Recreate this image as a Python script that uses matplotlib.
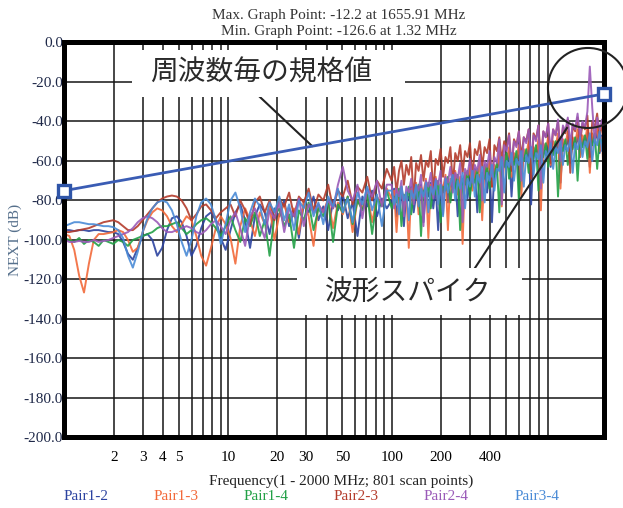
import numpy as np
import matplotlib
matplotlib.use('Agg')
import matplotlib.pyplot as plt
from matplotlib.patches import Rectangle, Ellipse
from matplotlib.ticker import FixedLocator, FixedFormatter, NullFormatter

# log sweep: coarser below 100 MHz, finer above
freq = np.concatenate([np.geomspace(1, 100, 67, endpoint=False),
                       np.geomspace(100, 2000, 88)])

pair12 = [-95, -95, -95.5, -95, -95, -95.5, -95, -95, -95.5, -96,
          -96, -97, -101, -107, -110, -104, -98, -97, -100, -108,
          -104, -95, -89, -88, -91, -98, -108, -103, -94, -88,
          -86, -90, -99, -105, -95, -86, -82, -90, -104, -88,
          -82, -86, -97, -84, -88, -80, -93, -85, -99, -82,
          -86, -78, -90, -83, -95, -80, -85, -77, -89, -81,
          -98, -78, -83, -75, -88, -79, -84,
          -80, -74, -88, -77, -75, -93, -76, -80, -73, -86, -77,
          -79, -72, -91, -75, -78, -71, -84, -73, -95, -72, -76,
          -69, -81, -71, -74, -68, -88, -70, -72, -66, -79, -68,
          -71, -64, -86, -67, -69, -62, -76, -65, -91, -64, -67,
          -57, -70, -60, -63, -55, -78, -58, -61, -54, -67, -57,
          -60, -53, -82, -55, -58, -51, -66, -54, -57, -50, -63,
          -53, -56, -49, -71, -51, -54, -48, -61, -50, -53, -47,
          -58, -49, -52, -46, -63, -48, -51, -45, -56, -47, -50]
pair13 = [-97, -98, -105, -118, -126.6, -112, -100, -97, -97, -96.5,
          -96, -95, -96, -100, -106, -104, -96, -90, -86, -84,
          -85, -88, -93, -96, -92, -88, -90, -98, -108, -113,
          -104, -94, -88, -92, -99, -112, -93, -84, -90, -98,
          -86, -92, -83, -100, -87, -82, -91, -84, -97, -80,
          -88, -103, -82, -86, -79, -94, -81, -87, -78, -96,
          -80, -84, -76, -91, -78, -82, -74,
          -79, -75, -96, -77, -73, -84, -76, -104, -74, -78, -71,
          -87, -73, -76, -69, -99, -72, -75, -68, -82, -71, -74,
          -67, -95, -69, -72, -65, -77, -68, -102, -66, -70, -63,
          -75, -65, -68, -61, -90, -63, -66, -60, -73, -62, -65,
          -55, -83, -57, -60, -53, -68, -56, -59, -52, -78, -54,
          -57, -50, -64, -53, -56, -49, -85, -51, -54, -48, -62,
          -50, -53, -46, -74, -49, -52, -45, -60, -48, -51, -44,
          -58, -47, -50, -43, -66, -46, -49, -42, -55, -48, -80]
pair14 = [-99, -100, -101, -99, -102, -100, -101, -103, -100, -101,
          -102, -100, -101, -103, -100, -99, -98, -97, -96, -94,
          -93, -93, -92, -91, -94, -97, -95, -92, -90, -89,
          -91, -94, -98, -93, -88, -95, -101, -89, -93, -86,
          -98, -90, -108, -88, -84, -93, -87, -104, -85, -90,
          -81, -95, -84, -88, -80, -101, -82, -86, -78, -92,
          -80, -85, -77, -97, -79, -83, -75,
          -84, -78, -81, -74, -93, -77, -80, -73, -87, -76, -79,
          -72, -98, -75, -78, -71, -84, -74, -77, -70, -91, -73,
          -75, -68, -81, -71, -74, -67, -95, -69, -72, -65, -78,
          -68, -71, -64, -86, -66, -69, -62, -74, -65, -68, -61,
          -86, -60, -63, -56, -69, -59, -62, -55, -80, -57, -60,
          -54, -66, -56, -59, -52, -75, -55, -58, -51, -63, -54,
          -57, -50, -78, -52, -55, -49, -62, -51, -54, -48, -70,
          -50, -53, -47, -59, -49, -52, -46, -64, -48, -51, -50]
pair23 = [-96, -96, -95.5, -95, -94.5, -94, -93, -92, -91, -90.5,
          -90, -91, -93, -95, -95, -93, -90, -87, -84, -81,
          -79, -78, -77.5, -78, -80, -84, -90, -87, -83, -82,
          -85, -89, -86, -84, -82, -88, -80, -85, -92, -81,
          -78, -86, -80, -90, -79, -83, -76, -88, -78, -81,
          -74, -85, -77, -80, -72, -84, -75, -78, -70, -82,
          -73, -76, -68, -80, -70, -74, -64,
          -70, -63, -76, -65, -60, -72, -62, -67, -58, -80, -61,
          -65, -57, -70, -60, -63, -55, -76, -59, -62, -54, -68,
          -58, -61, -53, -72, -56, -60, -52, -66, -55, -58, -51,
          -68, -54, -57, -50, -63, -53, -56, -49, -73, -52, -55,
          -48, -60, -50, -53, -46, -65, -49, -52, -45, -58, -48,
          -50, -44, -69, -46, -49, -42, -58, -45, -48, -41, -61,
          -44, -47, -40, -55, -43, -46, -39, -66, -42, -45, -38,
          -51, -41, -44, -37, -58, -40, -43, -36, -49, -41, -42]
pair24 = [-100, -101, -101, -100.5, -101, -101, -100, -101, -100.5, -100,
          -99, -98, -97, -96, -94, -91, -89, -88, -89, -91,
          -94, -96, -96, -95, -94, -93, -94, -96, -97, -95,
          -92, -90, -93, -97, -90, -86, -94, -103, -88, -84,
          -92, -99, -85, -89, -81, -96, -84, -88, -79, -93,
          -82, -86, -82, -86, -80, -84, -72, -63, -75, -80,
          -72, -89, -74, -78, -70, -83, -72,
          -72, -84, -74, -78, -70, -88, -73, -76, -69, -82, -72,
          -75, -67, -93, -70, -73, -66, -79, -69, -72, -65, -87,
          -68, -71, -63, -76, -66, -69, -61, -91, -64, -67, -59,
          -71, -62, -65, -57, -80, -60, -63, -55, -68, -58, -61,
          -49, -82, -52, -55, -47, -62, -50, -53, -45, -70, -48,
          -51, -44, -58, -47, -50, -42, -74, -45, -48, -41, -55,
          -44, -47, -39, -60, -42, -45, -38, -52, -41, -44, -36,
          -48, -40, -43, -35, -12.2, -33, -50, -38, -44, -39, -45]
pair34 = [-93, -92, -91, -91, -91.5, -92, -92, -92.5, -93, -93,
          -93.5, -95, -99, -108, -114, -106, -96, -89, -84, -81,
          -80, -81, -85, -92, -101, -108, -100, -88, -81, -79,
          -82, -90, -102, -92, -80, -76, -84, -96, -86, -79,
          -83, -92, -81, -86, -78, -90, -82, -95, -80, -84,
          -76, -88, -81, -92, -78, -83, -74, -86, -79, -91,
          -76, -82, -73, -85, -77, -93, -75,
          -75, -82, -77, -87, -73, -80, -76, -90, -75, -79, -72,
          -83, -74, -78, -71, -86, -73, -77, -70, -82, -72, -88,
          -69, -76, -71, -67, -80, -70, -74, -66, -84, -69, -73,
          -65, -78, -67, -71, -63, -81, -66, -70, -62, -75, -64,
          -65, -58, -76, -60, -63, -56, -70, -59, -62, -55, -73,
          -57, -61, -53, -67, -56, -59, -52, -71, -55, -58, -51,
          -64, -53, -56, -50, -62, -52, -55, -49, -66, -51, -54,
          -48, -58, -50, -53, -46, -60, -49, -52, -45, -55, -47]

# limit line (per-frequency spec)
limit_freq = [1, 2000]
limit_db = [-75, -26]

pair_names = ['Pair1-2', 'Pair1-3', 'Pair1-4', 'Pair2-3', 'Pair2-4', 'Pair3-4']
pair_data = [pair12, pair13, pair14, pair23, pair24, pair34]
pair_colors = ['#2c43a0', '#f2693a', '#22a046', '#b43c2c', '#9a5ab8', '#4a8bd6']

x_major = [2, 3, 4, 5, 10, 20, 30, 50, 100, 200, 400]
x_minor = [6, 7, 8, 9, 40, 60, 70, 80, 90, 300, 500, 600, 700, 800, 900]
y_ticks = list(range(-200, 1, 20))

serif = 'Liberation Serif'
jp = ['Noto Sans CJK JP', 'DejaVu Sans']

fig = plt.figure(figsize=(6.23, 5.08), dpi=100)
ax = fig.add_axes([0.1035, 0.1388, 0.8668, 0.7776])

for name, vals, col in zip(pair_names, pair_data, pair_colors):
    assert len(vals) == len(freq), name
    ax.plot(freq, vals, color=col, lw=1.4, alpha=0.9, zorder=2)

ax.plot(limit_freq, limit_db, color='#3a5cb4', lw=2.0, marker='s', ms=8,
        mfc='white', mec='#2f55a8', mew=2.4, zorder=4, clip_on=False)

ax.set_xscale('log')
ax.set_xlim(1, 2000)
ax.set_ylim(-200, 0)
ax.xaxis.set_major_locator(FixedLocator(x_major))
ax.xaxis.set_major_formatter(FixedFormatter([str(v) for v in x_major]))
ax.xaxis.set_minor_locator(FixedLocator(x_minor))
ax.xaxis.set_minor_formatter(NullFormatter())
ax.set_yticks(y_ticks)
ax.set_yticklabels([f'{v:.1f}' for v in y_ticks])
ax.set_axisbelow(True)
ax.grid(True, which='both', color='#151515', lw=1.1)
ax.tick_params(which='both', length=0)
ax.tick_params(axis='x', pad=10, labelsize=11)
ax.tick_params(axis='y', pad=1, labelsize=11, labelcolor='#1e2848')
for lab in ax.get_xticklabels() + ax.get_yticklabels():
    lab.set_family(serif)
for sp in ax.spines.values():
    sp.set_linewidth(3.6)
    sp.set_color('black')

# header / footer text
fig.text(0.544, 1 - 16 / 508, 'Max. Graph Point: -12.2 at 1655.91 MHz',
         ha='center', va='center', fontsize=11, family=serif, color='#333333')
fig.text(0.544, 1 - 32 / 508, 'Min. Graph Point: -126.6 at 1.32 MHz',
         ha='center', va='center', fontsize=11, family=serif, color='#333333')
fig.text(0.547, 1 - 481 / 508, 'Frequency(1 - 2000 MHz; 801 scan points)',
         ha='center', va='center', fontsize=11, family=serif, color='#222222')
fig.text(15 / 623, 1 - 240 / 508, 'NEXT (dB)', rotation=90, ha='center',
         va='center', fontsize=11, family=serif, color='#56708c')
leg_x = [86, 176, 266, 356, 446, 537]
for lx, name, col in zip(leg_x, pair_names, pair_colors):
    fig.text(lx / 623, 1 - 497 / 508, name, ha='center', va='center',
             fontsize=11, family=serif, color=col)

# callouts
ax.add_patch(Rectangle((0.125, 0.862), 0.506, 0.119, transform=ax.transAxes,
                       facecolor='white', edgecolor='none', zorder=5))
ax.text(0.364, 0.923, '周波数毎の規格値', transform=ax.transAxes, ha='center',
        va='center', fontsize=20, family=jp, color='#2a2a2a', zorder=6)
ax.plot([15.2, 32.6], [-26.6, -52.4], color='#222222', lw=1.5, zorder=3)

ax.add_patch(Rectangle((0.4306, 0.310), 0.4166, 0.119, transform=ax.transAxes,
                       facecolor='white', edgecolor='none', zorder=5))
ax.text(0.636, 0.368, '波形スパイク', transform=ax.transAxes, ha='center',
        va='center', fontsize=20, family=jp, color='#2a2a2a', zorder=6)
ax.plot([323, 1179], [-114.2, -43.3], color='#222222', lw=1.5, zorder=3)
ax.add_patch(Ellipse((0.9694, 0.8848), 80 / 540, 80 / 395, transform=ax.transAxes,
                     fill=False, edgecolor='#222222', lw=1.5, zorder=6, clip_on=False))

fig.savefig('out.png', dpi=100)
